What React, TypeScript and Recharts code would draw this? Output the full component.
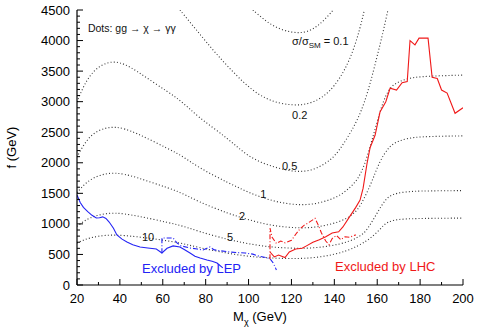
import { Line, LineChart, ReferenceDot, XAxis, YAxis } from "recharts";

type Pt = [number, number];

const FONT = "'Liberation Sans', Arial, Helvetica, sans-serif";

// ticks: majors every 20 GeV / 500 GeV, minors in between
const xTicks = [20, 30, 40, 50, 60, 70, 80, 90, 100, 110, 120, 130, 140, 150, 160, 170, 180, 190, 200];
const yTicks = Array.from({ length: 46 }, (_, i) => i * 100);

// contours sigma/sigma_SM, points are [M_chi, f]
const c01: Pt[] = [[102, 4500], [106, 4380], [110, 4270], [115, 4180], [120, 4135], [124, 4125], [128, 4150], [132, 4230], [136, 4360], [139.5, 4500]];
const c02: Pt[] = [[68, 4500], [72, 4330], [76, 4160], [80, 3990], [85, 3780], [90, 3590], [96, 3370], [102, 3180], [108, 3050], [114, 2975], [120, 2945], [125, 2945], [130, 2990], [135, 3080], [140, 3250], [145, 3520], [149, 3850], [152, 4200], [154, 4500]];
const c05: Pt[] = [[20, 2995], [23, 3250], [26, 3430], [30, 3570], [34, 3640], [38, 3655], [42, 3620], [48, 3500], [55, 3330], [62, 3170], [67, 3050], [72, 2900], [77, 2740], [84, 2560], [90, 2400], [95, 2250], [100, 2110], [106, 2000], [112, 1930], [118, 1875], [124, 1850], [130, 1880], [136, 1990], [140, 2100], [144, 2290], [148, 2520], [151, 2720], [154, 2980], [157, 3330], [160, 3750], [162.5, 4100], [165, 4500]];
const c1: Pt[] = [[20, 2094], [23, 2290], [26, 2430], [30, 2530], [34, 2575], [38, 2585], [42, 2560], [48, 2480], [55, 2360], [62, 2240], [67, 2150], [72, 2040], [77, 1920], [84, 1790], [90, 1680], [95, 1600], [100, 1515], [106, 1435], [112, 1370], [118, 1330], [124, 1310], [130, 1320], [136, 1370], [142, 1450], [147, 1580], [151, 1730], [154, 1950], [157, 2300], [159, 2550], [161, 2800], [163, 3020], [165, 3170], [167, 3260], [170, 3330], [175, 3385], [180, 3410], [190, 3425], [200, 3435]];
const c2: Pt[] = [[20, 1510], [23, 1630], [26, 1720], [30, 1790], [34, 1825], [38, 1832], [42, 1815], [48, 1760], [55, 1675], [62, 1595], [67, 1530], [72, 1450], [77, 1360], [84, 1260], [90, 1180], [95, 1120], [100, 1070], [106, 1010], [112, 970], [118, 945], [124, 932], [130, 940], [136, 975], [142, 1030], [147, 1110], [151, 1230], [154, 1420], [157, 1650], [159, 1830], [161, 2000], [163, 2130], [165, 2230], [167, 2300], [170, 2360], [175, 2405], [180, 2425], [190, 2435], [200, 2440]];
const c5: Pt[] = [[20, 960], [23, 1040], [26, 1100], [30, 1145], [34, 1172], [38, 1178], [42, 1165], [48, 1130], [55, 1080], [62, 1025], [67, 985], [72, 935], [77, 875], [84, 805], [90, 750], [95, 710], [100, 675], [106, 640], [112, 618], [118, 605], [124, 600], [130, 605], [136, 628], [142, 665], [147, 715], [151, 780], [154, 850], [156, 950], [158, 1060], [160, 1180], [162, 1300], [164, 1400], [166, 1460], [169, 1505], [175, 1530], [180, 1538], [190, 1542], [200, 1545]];
const c10: Pt[] = [[20, 687], [23, 735], [26, 770], [30, 800], [34, 815], [38, 818], [42, 810], [48, 790], [55, 760], [60, 735], [67, 695], [72, 655], [77, 612], [84, 562], [90, 522], [96, 488], [102, 462], [108, 446], [114, 437], [120, 433], [126, 435], [133, 455], [140, 500], [146, 560], [151, 640], [155, 720], [158, 800], [161, 900], [163, 980], [165, 1030], [168, 1065], [172, 1080], [180, 1090], [200, 1095]];

// exclusion lines
const lep: Pt[] = [[20, 1472], [21.5, 1350], [23, 1270], [25, 1200], [27, 1140], [29, 1096], [30.5, 1100], [32, 1115], [33.5, 1090], [35, 1030], [37, 930], [38.6, 818], [41, 750], [43.3, 703], [46, 660], [49.4, 622], [53, 605], [57, 589], [59.6, 524], [62, 600], [64.8, 640], [68, 622], [70, 580], [72.7, 524], [75, 470], [77.4, 442], [80.6, 409], [83, 390], [85.3, 360], [88, 280]];
const lep2: Pt[] = [[59.6, 520], [59.6, 770], [62, 770], [64.8, 770], [66.6, 690], [68.5, 640], [72.7, 605], [76, 590], [78.8, 573], [82, 622], [84, 575], [87, 560], [91.4, 540], [95, 530], [98.4, 524], [102, 505], [105, 470], [108, 450], [110, 430], [111.5, 360], [113, 245]];
const lhc: Pt[] = [[110, 540], [112, 460], [114, 490], [117, 450], [119, 540], [122, 590], [125, 600], [127, 640], [130, 700], [133, 740], [136, 790], [139, 850], [142, 870], [144, 950], [147, 1110], [150, 1270], [152, 1390], [153.4, 1580], [155.3, 2000], [156.7, 2250], [159, 2450], [161.3, 2830], [164, 3000], [166, 3220], [169, 3190], [171.6, 3310], [174, 3330], [175.3, 4000], [177.6, 3930], [179.5, 4040], [183.7, 4040], [185.6, 3400], [188, 3380], [190, 3190], [192.6, 3140], [196.3, 2810], [200, 2900]];
const lhc2: Pt[] = [[110, 420], [110, 930], [111, 780], [113, 680], [115, 720], [117, 690], [120, 730], [122, 830], [124, 920], [126, 980], [128, 1020], [131, 1090], [132.5, 980], [134, 850], [136, 720], [137.5, 660], [139, 760], [141, 810], [143, 740], [145, 790], [147, 780], [150, 820]];

const contours = [c01, c02, c05, c1, c2, c5, c10];

// text annotations: [M, f, text]
const contourLabels: [number, number, string][] = [
  [120.3, 2716, "0.2"],
  [115.6, 1881, "0.5"],
  [105.4, 1423, "1"],
  [95.6, 1063, "2"],
  [90, 720, "5"],
  [50.3, 720, "10"],
];

const rows = (pts: Pt[]) => pts.map(([m, f]) => ({ m, f }));

const BottomTick = ({ x, y, payload }: any) => {
  const v = payload.value;
  const major = v % 20 === 0;
  return (
    <g>
      <line x1={x} y1={y} x2={x} y2={y - (major ? 6 : 3)} stroke="#000" />
      {major && (
        <text x={x} y={y + 18} textAnchor="middle" fontSize={13} fontFamily={FONT} fill="#000">
          {v}
        </text>
      )}
    </g>
  );
};

const TopTick = ({ x, y, payload }: any) => {
  const major = payload.value % 20 === 0;
  return <line x1={x} y1={y} x2={x} y2={y + (major ? 6 : 3)} stroke="#000" />;
};

const LeftTick = ({ x, y, payload }: any) => {
  const v = payload.value;
  const major = v % 500 === 0;
  return (
    <g>
      <line x1={x} y1={y} x2={x + (major ? 6 : 3)} y2={y} stroke="#000" />
      {major && (
        <text x={x - 7} y={y + 4.5} textAnchor="end" fontSize={13} fontFamily={FONT} fill="#000">
          {v}
        </text>
      )}
    </g>
  );
};

const RightTick = ({ x, y, payload }: any) => {
  const major = payload.value % 500 === 0;
  return <line x1={x} y1={y} x2={x - (major ? 6 : 3)} y2={y} stroke="#000" />;
};

const txt = (s: string, fill = "#111", size = 11) => (p: any) => (
  <text x={p.cx} y={p.cy} fontSize={size} fontFamily={FONT} fill={fill}>
    {s}
  </text>
);

export default function App() {
  return (
    <div style={{ width: 480, height: 334, background: "#fff" }}>
      <style>{"body{margin:0}"}</style>
      <LineChart width={480} height={334} margin={{ top: 10, right: 17, left: 17, bottom: 19 }}>
        <XAxis
          dataKey="m"
          type="number"
          domain={[20, 200]}
          ticks={xTicks}
          interval={0}
          allowDataOverflow
          height={30}
          tickSize={0}
          tickMargin={0}
          axisLine={{ stroke: "#000", strokeWidth: 1.2 }}
          tick={<BottomTick />}
          label={{
            content: ({ viewBox }: any) => (
              <text x={viewBox.x + viewBox.width / 2 - 10} y={321} textAnchor="middle" fontSize={13} fontFamily={FONT} fill="#000">
                M<tspan fontSize={9} dy={4}>χ</tspan>
                <tspan dy={-4}> (GeV)</tspan>
              </text>
            ),
          }}
        />
        <XAxis
          xAxisId="top"
          orientation="top"
          dataKey="m"
          type="number"
          domain={[20, 200]}
          ticks={xTicks}
          interval={0}
          allowDataOverflow
          height={0}
          tickSize={0}
          tickMargin={0}
          axisLine={{ stroke: "#000", strokeWidth: 1.2 }}
          tick={<TopTick />}
        />
        <YAxis
          type="number"
          domain={[0, 4500]}
          ticks={yTicks}
          interval={0}
          allowDataOverflow
          width={60}
          tickSize={0}
          tickMargin={0}
          axisLine={{ stroke: "#000", strokeWidth: 1.2 }}
          tick={<LeftTick />}
          label={{
            value: "f (GeV)",
            angle: -90,
            position: "insideLeft",
            offset: -6,
            style: { textAnchor: "middle", fontSize: 13, fontFamily: FONT, fill: "#000" },
          }}
        />
        <YAxis
          yAxisId="right"
          orientation="right"
          type="number"
          domain={[0, 4500]}
          ticks={yTicks}
          interval={0}
          allowDataOverflow
          width={0}
          tickSize={0}
          tickMargin={0}
          axisLine={{ stroke: "#000", strokeWidth: 1.2 }}
          tick={<RightTick />}
        />
        <Line data={rows(c1)} dataKey="f" xAxisId="top" yAxisId="right" stroke="none" dot={false} isAnimationActive={false} />

        {contours.map((c, i) => (
          <Line
            key={i}
            data={rows(c)}
            dataKey="f"
            type="basis"
            stroke="#333"
            strokeWidth={1.1}
            strokeDasharray="1 2.2"
            dot={false}
            isAnimationActive={false}
          />
        ))}

        <Line data={rows(lep)} dataKey="f" stroke="#2323f5" strokeWidth={1.1} dot={false} isAnimationActive={false} />
        <Line data={rows(lep2)} dataKey="f" stroke="#2323f5" strokeWidth={1.1} strokeDasharray="5 2 1 2" dot={false} isAnimationActive={false} />
        <Line data={rows(lhc)} dataKey="f" stroke="#f01818" strokeWidth={1.1} dot={false} isAnimationActive={false} />
        <Line data={rows(lhc2)} dataKey="f" stroke="#f01818" strokeWidth={1.1} strokeDasharray="5 2 1 2" dot={false} isAnimationActive={false} />

        {contourLabels.map(([m, f, s]) => (
          <ReferenceDot key={s} x={m} y={f} r={0} ifOverflow="visible" shape={txt(s)} />
        ))}
        <ReferenceDot
          x={120.3}
          y={3927}
          r={0}
          ifOverflow="visible"
          shape={(p: any) => (
            <text x={p.cx} y={p.cy} fontSize={11} fontFamily={FONT} fill="#111">
              σ/σ<tspan fontSize={8} dy={3}>SM</tspan>
              <tspan dy={-3}> = 0.1</tspan>
            </text>
          )}
        />
        <ReferenceDot x={25.1} y={4139} r={0} ifOverflow="visible" shape={txt("Dots: gg → χ → γγ", "#111", 10.5)} />
        <ReferenceDot x={50.3} y={196} r={0} ifOverflow="visible" shape={txt("Excluded by LEP", "#2323f5", 13)} />
        <ReferenceDot x={140.3} y={229} r={0} ifOverflow="visible" shape={txt("Excluded by LHC", "#f01818", 13)} />
      </LineChart>
    </div>
  );
}
